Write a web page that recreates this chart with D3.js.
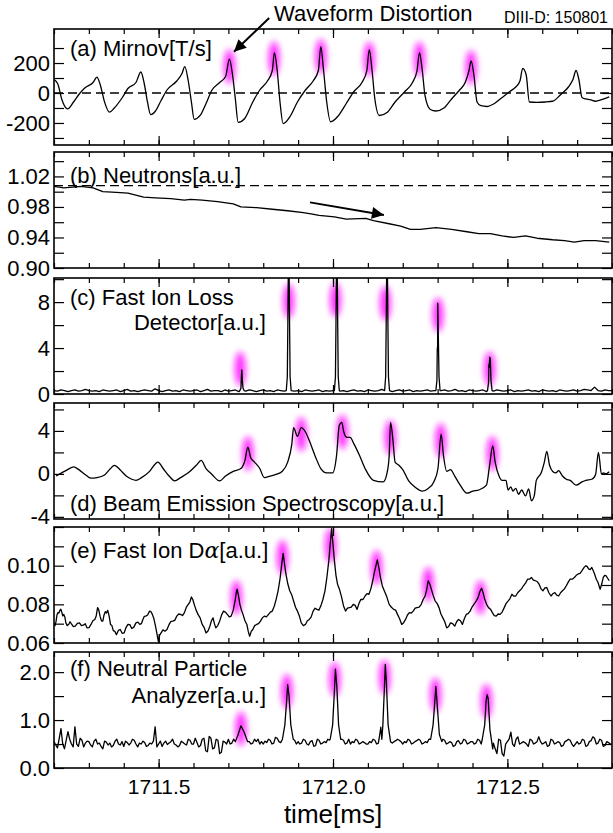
<!DOCTYPE html>
<html>
<head>
<meta charset="utf-8">
<script src="https://cdn.jsdelivr.net/npm/d3@7"></script>
<style>
  body { margin: 0; background: #fff; }
  svg { font-family: "Liberation Sans", Arial, sans-serif; }
</style>
</head>
<body>
<svg width="613" height="833"></svg>
<script>
// ---- data ----
const xMinorTicks = [1711.2, 1711.3, 1711.4, 1711.5, 1711.6, 1711.7, 1711.8, 1711.9, 1712.0,
  1712.1, 1712.2, 1712.3, 1712.4, 1712.5, 1712.6, 1712.7, 1712.8];
const xMajorTicks = [1711.5, 1712.0, 1712.5];

// (a) Mirnov [T/s]
const mirnov = [[1711.200,90],[1711.211,60],[1711.222,-40],[1711.239,-106],[1711.256,-60],[1711.273,-5],[1711.289,35],[1711.312,70],[1711.323,106],[1711.332,60],[1711.345,-60],[1711.359,-128],[1711.373,-100],[1711.396,-30],[1711.412,30],[1711.435,70],[1711.449,140],[1711.459,60],[1711.468,-60],[1711.477,-144],[1711.491,-120],[1711.507,-50],[1711.524,20],[1711.552,80],[1711.567,130],[1711.575,176],[1711.585,80],[1711.594,-60],[1711.602,-176],[1711.619,-150],[1711.636,-70],[1711.653,20],[1711.675,70],[1711.692,110],[1711.703,226],[1711.712,120],[1711.720,-40],[1711.728,-196],[1711.747,-170],[1711.770,-60],[1711.790,20],[1711.812,80],[1711.826,150],[1711.832,270],[1711.840,150],[1711.848,-60],[1711.857,-204],[1711.876,-160],[1711.898,-60],[1711.921,20],[1711.943,80],[1711.958,150],[1711.965,310],[1711.973,150],[1711.982,-60],[1711.993,-192],[1712.016,-150],[1712.038,-70],[1712.060,10],[1712.083,70],[1712.097,150],[1712.104,290],[1712.112,150],[1712.120,-40],[1712.133,-150],[1712.155,-130],[1712.178,-60],[1712.206,10],[1712.228,70],[1712.241,150],[1712.248,270],[1712.256,150],[1712.264,-20],[1712.279,-110],[1712.295,-120],[1712.318,-100],[1712.340,-40],[1712.363,20],[1712.379,70],[1712.390,150],[1712.396,214],[1712.404,120],[1712.413,-60],[1712.424,-85],[1712.441,-90],[1712.463,-70],[1712.485,-30],[1712.507,10],[1712.524,40],[1712.536,80],[1712.544,164],[1712.554,120],[1712.563,-60],[1712.585,-62],[1712.608,-60],[1712.630,-55],[1712.653,-10],[1712.675,40],[1712.688,90],[1712.697,150],[1712.705,90],[1712.714,-30],[1712.725,-40],[1712.737,-45],[1712.753,-55],[1712.770,-45],[1712.792,-26]];
const mirnovGlow = [[1711.703,176],[1711.831,230],[1711.965,246],[1712.104,226],[1712.248,226],[1712.396,170]];
const mirnovTicks = [-300, -200, -100, 0, 100, 200, 300];
const mirnovLabels = [-200, 0, 200];

// (b) Neutrons [a.u.]
const neutrons = [[1711.200,1.007],[1711.228,1.005],[1711.278,1.007],[1711.312,1.005],[1711.340,1.000],[1711.379,0.999],[1711.412,0.998],[1711.457,0.993],[1711.491,0.992],[1711.535,0.991],[1711.574,0.989],[1711.591,0.990],[1711.625,0.989],[1711.669,0.987],[1711.714,0.984],[1711.736,0.980],[1711.781,0.979],[1711.826,0.977],[1711.870,0.975],[1711.915,0.9725],[1711.937,0.971],[1711.960,0.969],[1712.004,0.967],[1712.038,0.964],[1712.094,0.965],[1712.116,0.962],[1712.161,0.958],[1712.194,0.955],[1712.222,0.9505],[1712.250,0.9505],[1712.295,0.953],[1712.340,0.9505],[1712.384,0.9475],[1712.418,0.945],[1712.451,0.945],[1712.485,0.942],[1712.518,0.940],[1712.552,0.942],[1712.585,0.939],[1712.630,0.937],[1712.664,0.936],[1712.692,0.934],[1712.720,0.936],[1712.753,0.936],[1712.792,0.934]];
const neutronsRef = 1.008;
const neutronsTicks = [0.90, 0.92, 0.94, 0.96, 0.98, 1.00, 1.02, 1.04];
const neutronsLabels = [0.90, 0.94, 0.98, 1.02];

// (c) Fast ion loss detector: baseline samples every 0.01 ms from 1711.20, plus bursts
const fildBase = [.3,.25,.35,.3,.2,.3,.35,.25,.3,.4, .3,.25,.3,.2,.35,.3,.25,.3,.35,.2,
  .3,.4,.25,.3,.2,.3,.35,.3,.25,.45, .3,.2,.3,.35,.25,.3,.2,.35,.3,.25,
  .3,.35,.2,.3,.4,.25,.3,.3,.2,.35, .25,.3,.35,.2,.3,.25,.35,.3,.2,.3,
  .35,.25,.3,.2,.35,.3,.25,.3,.4,.25, .3,.2,.35,.3,.25,.3,.35,.2,.3,.25,
  .3,.35,.25,.3,.2,.3,.35,.25,.3,.2, .35,.3,.25,.3,.4,.25,.3,.2,.3,.35,
  .25,.3,.35,.2,.3,.25,.3,.35,.25,.3, .2,.3,.35,.25,.3,.4,.25,.3,.2,.35,
  .3,.25,.3,.35,.2,.3,.25,.35,.3,.25, .3,.35,.2,.3,.25,.3,.35,.25,.3,.2,
  .35,.3,.25,.3,.2,.35,.3,.25,.3,.35, .25,.3,.4,.35,.3,.6,.3,.25,.35,.3, .3];
const fildBursts = [
  [[1711.733,0.3],[1711.736,0.5],[1711.7375,1.6],[1711.7385,2.1],[1711.740,1.2],[1711.742,0.5],[1711.745,0.3]],
  [[1711.866,0.3],[1711.869,1.5],[1711.8705,6],[1711.872,11],[1711.874,11],[1711.8755,6],[1711.877,1.5],[1711.880,0.3]],
  [[1712.004,0.3],[1712.007,1.5],[1712.0085,6],[1712.010,11],[1712.012,11],[1712.0135,6],[1712.015,1.5],[1712.018,0.3]],
  [[1712.148,0.3],[1712.151,1.5],[1712.1525,6],[1712.154,11],[1712.156,11],[1712.1575,6],[1712.159,1.5],[1712.162,0.3]],
  [[1712.295,0.3],[1712.298,1.2],[1712.299,3.9],[1712.300,4.2],[1712.3005,7.9],[1712.302,5],[1712.304,1.5],[1712.307,0.3]],
  [[1712.443,0.3],[1712.446,1.0],[1712.447,2.6],[1712.448,2.3],[1712.4495,3.2],[1712.451,3.1],[1712.453,1.2],[1712.456,0.3]]
];
const fildGlow = [[1711.734,2.2],[1711.873,8.1],[1712.007,8.2],[1712.150,7.9],[1712.301,6.9],[1712.449,2.2]];
const fildTicks = [0, 2, 4, 6, 8, 10];
const fildLabels = [0, 4, 8];

// (d) Beam emission spectroscopy [a.u.]
const bes = [[1711.206,-0.2],[1711.222,0.1],[1711.239,0.4],[1711.256,0.65],[1711.273,0.35],[1711.289,-0.05],[1711.306,-0.4],[1711.323,-0.35],[1711.345,-0.1],[1711.362,0.5],[1711.373,0.8],[1711.390,0.37],[1711.407,-0.2],[1711.423,-0.5],[1711.435,-0.6],[1711.451,-0.35],[1711.474,0.23],[1711.491,0.95],[1711.498,1.1],[1711.513,0.5],[1711.530,-0.2],[1711.546,-0.65],[1711.563,-0.35],[1711.585,0.1],[1711.608,0.8],[1711.622,1.25],[1711.636,0.5],[1711.653,-0.05],[1711.675,-0.65],[1711.692,-0.2],[1711.714,0.23],[1711.736,0.5],[1711.747,1.2],[1711.756,2.5],[1711.764,1.5],[1711.775,1.1],[1711.790,0.5],[1711.803,-0.35],[1711.820,-0.2],[1711.837,-0.05],[1711.854,0.23],[1711.870,1.1],[1711.882,2.8],[1711.887,4.3],[1711.898,3.5],[1711.909,4.3],[1711.921,3.9],[1711.932,3.1],[1711.949,1.65],[1711.965,0.5],[1711.982,0.1],[1711.999,0.1],[1712.010,1.65],[1712.018,4.5],[1712.025,4.8],[1712.031,3.9],[1712.040,3.4],[1712.049,3.4],[1712.060,2.8],[1712.077,1.65],[1712.094,0.37],[1712.116,-0.6],[1712.144,-0.75],[1712.155,0.1],[1712.161,1.65],[1712.165,4.8],[1712.172,3.1],[1712.178,1.1],[1712.189,0.8],[1712.200,0.4],[1712.217,-0.65],[1712.234,-1.2],[1712.256,-1.6],[1712.273,-1.35],[1712.289,-0.75],[1712.301,0.5],[1712.310,3.7],[1712.317,1.65],[1712.326,0.23],[1712.337,0.4],[1712.349,-0.2],[1712.362,-0.9],[1712.384,-1.8],[1712.401,-1.6],[1712.418,-1.5],[1712.440,-1.05],[1712.449,0.8],[1712.458,2.6],[1712.465,1.1],[1712.476,-0.2],[1712.485,-0.6],[1712.496,-0.6],[1712.502,-1.5],[1712.510,-1.2],[1712.516,-1.6],[1712.524,-1.35],[1712.532,-1.9],[1712.541,-1.5],[1712.552,-2.05],[1712.561,-1.4],[1712.569,-2.5],[1712.577,-2.05],[1712.583,-0.6],[1712.597,0.1],[1712.606,1.1],[1712.613,2.1],[1712.621,0.8],[1712.630,0.23],[1712.639,0.1],[1712.647,0.3],[1712.658,-0.2],[1712.669,-0.5],[1712.680,-0.6],[1712.697,-1.05],[1712.714,-0.75],[1712.725,-0.6],[1712.742,-0.5],[1712.753,-0.05],[1712.761,2.0],[1712.770,-0.05],[1712.775,0.1],[1712.782,0],[1712.792,0.2]];
const besGlow = [[1711.756,1.9],[1711.909,3.7],[1712.027,3.9],[1712.164,3.4],[1712.309,3.1],[1712.457,1.9]];
const besTicks = [-4, -2, 0, 2, 4, 6];
const besLabels = [-4, 0, 4];

// (e) Fast ion D-alpha [a.u.]: main trace and the small wiggles between its samples
const fida = [[1711.200,0.0700],[1711.206,0.0713],[1711.211,0.0757],[1711.217,0.0769],[1711.222,0.0762],[1711.228,0.0748],[1711.234,0.0704],[1711.242,0.0696],[1711.250,0.0699],[1711.261,0.0687],[1711.273,0.0704],[1711.284,0.0692],[1711.295,0.0678],[1711.306,0.0696],[1711.317,0.0722],[1711.325,0.0783],[1711.332,0.0739],[1711.340,0.0713],[1711.347,0.0762],[1711.354,0.0769],[1711.362,0.0696],[1711.370,0.0664],[1711.379,0.0643],[1711.390,0.0670],[1711.401,0.0652],[1711.412,0.0696],[1711.423,0.0675],[1711.435,0.0704],[1711.446,0.0696],[1711.455,0.0722],[1711.463,0.0739],[1711.474,0.0765],[1711.482,0.0748],[1711.491,0.0687],[1711.499,0.0609],[1711.507,0.0652],[1711.518,0.0661],[1711.530,0.0696],[1711.541,0.0713],[1711.552,0.0739],[1711.563,0.0748],[1711.574,0.0757],[1711.585,0.0800],[1711.594,0.0838],[1711.602,0.0800],[1711.613,0.0748],[1711.625,0.0696],[1711.636,0.0652],[1711.647,0.0687],[1711.656,0.0730],[1711.664,0.0678],[1711.675,0.0713],[1711.686,0.0765],[1711.697,0.0748],[1711.708,0.0739],[1711.720,0.0826],[1711.725,0.0878],[1711.733,0.0800],[1711.742,0.0748],[1711.753,0.0696],[1711.761,0.0635],[1711.770,0.0670],[1711.781,0.0696],[1711.792,0.0713],[1711.803,0.0739],[1711.815,0.0748],[1711.826,0.0765],[1711.837,0.0826],[1711.848,0.0930],[1711.857,0.1064],[1711.865,0.0957],[1711.876,0.0870],[1711.887,0.0817],[1711.898,0.0765],[1711.909,0.0704],[1711.921,0.0696],[1711.932,0.0722],[1711.943,0.0765],[1711.954,0.0774],[1711.965,0.0791],[1711.977,0.0870],[1711.988,0.1026],[1711.996,0.1191],[1712.004,0.1026],[1712.013,0.0904],[1712.025,0.0835],[1712.036,0.0765],[1712.047,0.0783],[1712.058,0.0800],[1712.069,0.0774],[1712.080,0.0826],[1712.092,0.0843],[1712.103,0.0852],[1712.114,0.0922],[1712.122,0.0991],[1712.127,0.1030],[1712.136,0.0939],[1712.147,0.0870],[1712.161,0.0800],[1712.174,0.0774],[1712.185,0.0748],[1712.197,0.0696],[1712.208,0.0722],[1712.219,0.0757],[1712.230,0.0765],[1712.241,0.0783],[1712.253,0.0800],[1712.264,0.0843],[1712.273,0.0922],[1712.282,0.0878],[1712.293,0.0817],[1712.304,0.0783],[1712.315,0.0730],[1712.326,0.0678],[1712.337,0.0704],[1712.349,0.0687],[1712.360,0.0722],[1712.371,0.0696],[1712.382,0.0748],[1712.393,0.0765],[1712.404,0.0800],[1712.416,0.0835],[1712.426,0.0883],[1712.435,0.0826],[1712.446,0.0783],[1712.457,0.0757],[1712.468,0.0739],[1712.479,0.0748],[1712.491,0.0783],[1712.502,0.0817],[1712.513,0.0852],[1712.524,0.0843],[1712.535,0.0870],[1712.546,0.0896],[1712.558,0.0930],[1712.569,0.0939],[1712.580,0.0922],[1712.591,0.0904],[1712.602,0.0870],[1712.613,0.0887],[1712.625,0.0843],[1712.636,0.0861],[1712.647,0.0843],[1712.658,0.0870],[1712.669,0.0896],[1712.680,0.0930],[1712.692,0.0939],[1712.703,0.0957],[1712.714,0.0974],[1712.725,0.1000],[1712.733,0.0983],[1712.742,0.0991],[1712.750,0.0957],[1712.760,0.0913],[1712.766,0.0878],[1712.775,0.0939],[1712.783,0.0948],[1712.792,0.0922]];
const fidaWiggle = [[1711.203,0.0690],[1711.2085,0.0745],[1711.214,0.0755],[1711.2195,0.0775],[1711.225,0.0740],[1711.231,0.0735],[1711.238,0.0690],[1711.246,0.0710],[1711.2555,0.0685],[1711.267,0.0702],[1711.2785,0.0690],[1711.2895,0.0700],[1711.3005,0.0680],[1711.3115,0.0715],[1711.321,0.0740],[1711.3285,0.0770],[1711.336,0.0715],[1711.3435,0.0745],[1711.3505,0.0755],[1711.358,0.0740],[1711.366,0.0690],[1711.3745,0.0660],[1711.3845,0.0665],[1711.3955,0.0650],[1711.4065,0.0680],[1711.4175,0.0695],[1711.429,0.0682],[1711.4405,0.0708],[1711.4505,0.0700],[1711.459,0.0738],[1711.4685,0.0745],[1711.478,0.0762],[1711.4865,0.0725],[1711.495,0.0650],[1711.503,0.0640],[1711.5125,0.0668],[1711.524,0.0670],[1711.5355,0.0712],[1711.5465,0.0718],[1711.5575,0.0750],[1711.5685,0.0742],[1711.5795,0.0785],[1711.5895,0.0812],[1711.598,0.0825],[1711.6075,0.0770],[1711.619,0.0730],[1711.6305,0.0680],[1711.6415,0.0662],[1711.6515,0.0715],[1711.660,0.0700],[1711.6695,0.0690],[1711.6805,0.0745],[1711.6915,0.0760],[1711.7025,0.0735],[1711.714,0.0770],[1711.7225,0.0860],[1711.729,0.0845],[1711.7375,0.0770],[1711.7475,0.0715],[1711.757,0.0660],[1711.7655,0.0660],[1711.7755,0.0690],[1711.7865,0.0700],[1711.7975,0.0730],[1711.809,0.0735],[1711.8205,0.0760],[1711.8315,0.0790],[1711.8425,0.0870],[1711.8525,0.1000],[1711.861,0.1010],[1711.8705,0.0905],[1711.8815,0.0850],[1711.8925,0.0785],[1711.9035,0.0740],[1711.915,0.0690],[1711.9265,0.0715],[1711.9375,0.0735],[1711.9485,0.0780],[1711.9595,0.0770],[1711.971,0.0825],[1711.9825,0.0940],[1711.992,0.1110],[1712.000,0.1110],[1712.0085,0.0950],[1712.019,0.0875],[1712.0305,0.0790],[1712.0415,0.0780],[1712.0525,0.0785],[1712.0635,0.0795],[1712.0745,0.0805],[1712.086,0.0825],[1712.0975,0.0855],[1712.1085,0.0880],[1712.118,0.0960],[1712.1245,0.1010],[1712.1315,0.0990],[1712.1415,0.0895],[1712.154,0.0840],[1712.1675,0.0785],[1712.1795,0.0770],[1712.191,0.0725],[1712.2025,0.0705],[1712.2135,0.0745],[1712.2245,0.0755],[1712.2355,0.0780],[1712.247,0.0785],[1712.2585,0.0825],[1712.2685,0.0875],[1712.2775,0.0905],[1712.2875,0.0845],[1712.2985,0.0805],[1712.3095,0.0750],[1712.3205,0.0710],[1712.3315,0.0685],[1712.343,0.0700],[1712.3545,0.0710],[1712.3655,0.0715],[1712.3765,0.0725],[1712.3875,0.0752],[1712.3985,0.0785],[1712.410,0.0815],[1712.421,0.0865],[1712.4305,0.0860],[1712.4405,0.0800],[1712.4515,0.0775],[1712.4625,0.0742],[1712.4735,0.0750],[1712.485,0.0760],[1712.4965,0.0805],[1712.5075,0.0830],[1712.5185,0.0842],[1712.5295,0.0860],[1712.5405,0.0880],[1712.552,0.0910],[1712.5635,0.0930],[1712.5745,0.0925],[1712.5855,0.0918],[1712.5965,0.0880],[1712.6075,0.0885],[1712.619,0.0860],[1712.6305,0.0855],[1712.6415,0.0848],[1712.6525,0.0860],[1712.6635,0.0880],[1712.6745,0.0915],[1712.686,0.0930],[1712.6975,0.0950],[1712.7085,0.0960],[1712.7195,0.0990],[1712.729,0.0995],[1712.7375,0.0980],[1712.746,0.0975],[1712.755,0.0930],[1712.763,0.0895],[1712.7705,0.0905],[1712.779,0.0950],[1712.7875,0.0935]];
const fidaGlow = [[1711.723,0.0835],[1711.855,0.1043],[1711.993,0.1104],[1712.125,0.0991],[1712.273,0.0904],[1712.423,0.0835]];
const fidaTicks = [0.06, 0.07, 0.08, 0.09, 0.10, 0.11, 0.12];
const fidaLabels = [0.06, 0.08, 0.10];

// (f) Neutral particle analyzer: baseline every 0.005 ms from 1711.20, plus bursts
const npaBase = [
  .55,.48,.42,.62,.82,.5,.4,.58,.76,.6,.5,.44,.86,.5,.45,.62,.58,.44,.52,.56,
  .55,.48,.44,.56,.6,.5,.52,.45,.4,.56,.54,.48,.52,.44,.47,.56,.6,.5,.48,.55,
  .45,.56,.53,.48,.52,.6,.58,.5,.44,.52,.5,.56,.53,.45,.47,.52,.5,.56,.86,.44,
  .5,.56,.45,.52,.56,.49,.52,.55,.6,.5,.48,.44,.47,.56,.53,.5,.48,.6,.58,.5,
  .5,.62,.53,.44,.47,.6,.62,.36,.34,.66,.62,.4,.42,.6,.58,.3,.33,.56,.54,.5,
  .6,.5,.52,.6,.57,.54,.5,.52,.6,.55,.5,.6,.55,.5,.52,.6,.55,.6,.5,.55,
  .5,.56,.53,.6,.58,.5,.52,.64,.62,.55,.53,.6,.58,.5,.52,.55,.57,.6,.58,.5,
  .55,.5,.52,.6,.58,.5,.48,.55,.57,.45,.47,.6,.58,.5,.52,.55,.53,.6,.58,.55,
  .6,.55,.53,.5,.55,.6,.58,.5,.52,.6,.5,.55,.53,.6,.58,.5,.52,.55,.53,.5,
  .5,.55,.53,.6,.58,.5,.52,.7,.66,.5,.52,.55,.53,.5,.52,.55,.57,.6,.58,.55,
  .5,.55,.53,.6,.58,.5,.52,.55,.57,.6,.58,.5,.52,.55,.53,.6,.58,.55,.53,.5,
  .55,.5,.52,.6,.58,.5,.52,.55,.53,.45,.47,.55,.57,.5,.52,.6,.58,.5,.52,.55,
  .55,.5,.52,.6,.58,.5,.52,.55,.57,.6,.58,.5,.52,.4,.3,.6,.58,.3,.25,.5,
  .55,.6,.75,.5,.45,.6,.65,.5,.52,.55,.53,.5,.45,.6,.58,.5,.52,.55,.65,.55,
  .5,.52,.55,.45,.47,.6,.58,.5,.52,.55,.53,.45,.47,.55,.57,.6,.58,.5,.45,.5,
  .55,.5,.52,.6,.58,.45,.47,.55,.57,.65,.62,.5,.52,.6,.58,.45,.47,.55,.53,.5,
  .5];
const npaBursts = [
  [[1711.720,0.55],[1711.728,0.7],[1711.736,0.88],[1711.745,0.75],[1711.755,0.55]],
  [[1711.855,0.6],[1711.862,0.9],[1711.867,1.4],[1711.870,1.74],[1711.874,1.5],[1711.879,0.9],[1711.886,0.6]],
  [[1711.992,0.6],[1711.999,0.9],[1712.004,1.6],[1712.007,2.06],[1712.011,1.7],[1712.016,0.9],[1712.022,0.6]],
  [[1712.132,0.6],[1712.137,0.85],[1712.140,0.6],[1712.143,0.9],[1712.147,1.6],[1712.150,2.16],[1712.153,1.8],[1712.158,0.9],[1712.165,0.55]],
  [[1712.280,0.6],[1712.287,0.9],[1712.292,1.4],[1712.295,1.70],[1712.299,1.3],[1712.305,0.7],[1712.312,0.55]],
  [[1712.428,0.6],[1712.435,0.9],[1712.439,1.4],[1712.442,1.53],[1712.445,1.45],[1712.450,0.8],[1712.458,0.4]]
];
const npaGlow = [[1711.736,0.82],[1711.868,1.6],[1712.005,1.85],[1712.148,1.9],[1712.294,1.53],[1712.440,1.39]];
const npaTicks = [0, 0.5, 1.0, 1.5, 2.0];
const npaLabels = [0, 1.0, 2.0];

// ---- helpers ----
const t0 = 1711.2;
function withBursts(base, step, bursts) {
  let pts = base.map((v, i) => [t0 + i * step, v]);
  bursts.forEach(b => {
    const lo = b[0][0], hi = b[b.length - 1][0];
    pts = pts.filter(p => p[0] < lo || p[0] > hi).concat(b);
  });
  return pts.sort((a, b) => a[0] - b[0]);
}

let svg = d3.select("svg");
const left = 54, right = 612;
const panelTops = [29, 152, 278, 403, 527, 652];
const panelH = 116;
const font = '"Liberation Sans", Arial, sans-serif';

let x = d3.scaleLinear().domain([1711.2, 1712.8]).range([left, right]);

let defs = svg.append("defs");
defs.append("filter")
  .attr("id", "glow")
  .attr("x", "-150%").attr("y", "-100%")
  .attr("width", "400%").attr("height", "300%")
  .append("feGaussianBlur")
  .attr("stdDeviation", 3.2);

defs.append("marker")
  .attr("id", "head")
  .attr("viewBox", "0 0 10 10")
  .attr("refX", 10).attr("refY", 5)
  .attr("markerWidth", 7).attr("markerHeight", 6)
  .attr("markerUnits", "strokeWidth")
  .attr("orient", "auto")
  .append("path")
  .attr("d", "M0,0L10,5L0,10z")
  .attr("fill", "#000");

let panels = [
  { data: mirnov, glow: mirnovGlow, domain: [-347, 427], ticks: mirnovTicks, labels: mirnovLabels,
    fmt: d => String(d), curve: d3.curveMonotoneX, ref: 0 },
  { data: neutrons, glow: [], domain: [0.90, 1.052], ticks: neutronsTicks, labels: neutronsLabels,
    fmt: d => d.toFixed(2), curve: d3.curveLinear, ref: neutronsRef },
  { data: withBursts(fildBase, 0.01, fildBursts), glow: fildGlow, domain: [0, 10.1], ticks: fildTicks, labels: fildLabels,
    fmt: d => String(d), curve: d3.curveLinear },
  { data: bes, glow: besGlow, domain: [-4.2, 6.6], ticks: besTicks, labels: besLabels,
    fmt: d => String(d), curve: d3.curveMonotoneX },
  { data: fida.concat(fidaWiggle).sort((a, b) => a[0] - b[0]), glow: fidaGlow, domain: [0.06, 0.12],
    ticks: fidaTicks, labels: fidaLabels, fmt: d => d.toFixed(2), curve: d3.curveLinear },
  { data: withBursts(npaBase, 0.005, npaBursts), glow: npaGlow, domain: [0, 2.42], ticks: npaTicks, labels: npaLabels,
    fmt: d => d.toFixed(1), curve: d3.curveLinear }
];

let yScales = [];

panels.forEach((p, i) => {
  const top = panelTops[i], bottom = top + panelH;
  let y = d3.scaleLinear().domain(p.domain).range([bottom, top]);
  yScales.push(y);

  defs.append("clipPath").attr("id", "clip" + i)
    .append("rect")
    .attr("x", left).attr("y", top)
    .attr("width", right - left).attr("height", panelH);

  let g = svg.append("g").attr("class", "panel");
  let plot = g.append("g").attr("clip-path", `url(#clip${i})`);

  // magenta highlight of the bursts
  plot.selectAll("ellipse")
    .data(p.glow)
    .join("ellipse")
    .attr("cx", d => x(d[0]))
    .attr("cy", d => y(d[1]))
    .attr("rx", 5.5)
    .attr("ry", 17)
    .attr("fill", "#ff10ff")
    .attr("opacity", 0.85)
    .attr("filter", "url(#glow)");

  if (p.ref != null) {
    plot.append("line")
      .attr("x1", left).attr("x2", right)
      .attr("y1", y(p.ref)).attr("y2", y(p.ref))
      .attr("stroke", "#000")
      .attr("stroke-width", 1.3)
      .attr("stroke-dasharray", "9,5");
  }

  plot.append("path")
    .datum(p.data)
    .attr("fill", "none")
    .attr("stroke", "#000")
    .attr("stroke-width", 1.3)
    .attr("stroke-linejoin", "round")
    .attr("d", d3.line().x(d => x(d[0])).y(d => y(d[1])).curve(p.curve));

  const isLabel = d => p.labels.some(l => Math.abs(l - d) < 1e-9);

  let yl = g.append("g")
    .attr("transform", `translate(${left},0)`)
    .call(d3.axisLeft(y).tickValues(p.ticks).tickSize(-10).tickPadding(4)
      .tickFormat(d => isLabel(d) ? p.fmt(d) : ""));
  yl.selectAll("text").attr("font-size", 22).attr("font-family", font).attr("fill", "#000");

  g.append("g")
    .attr("transform", `translate(${right},0)`)
    .call(d3.axisRight(y).tickValues(p.ticks).tickSize(-10).tickFormat(""));

  g.append("g").attr("transform", `translate(0,${top})`)
    .call(d3.axisTop(x).tickValues(xMinorTicks).tickSize(-5).tickFormat(""));
  g.append("g").attr("transform", `translate(0,${top})`)
    .call(d3.axisTop(x).tickValues(xMajorTicks).tickSize(-9).tickFormat(""));
  g.append("g").attr("transform", `translate(0,${bottom})`)
    .call(d3.axisBottom(x).tickValues(xMinorTicks).tickSize(-5).tickFormat(""));
  g.append("g").attr("transform", `translate(0,${bottom})`)
    .call(d3.axisBottom(x).tickValues(xMajorTicks).tickSize(-9).tickFormat(""));

  g.selectAll(".domain").remove();
  g.selectAll(".tick line").attr("stroke", "#000").attr("stroke-width", 1.2);

  g.append("rect")
    .attr("x", left).attr("y", top)
    .attr("width", right - left).attr("height", panelH)
    .attr("fill", "none")
    .attr("stroke", "#000")
    .attr("stroke-width", 1.6);
});

// x tick labels under the last panel
let xl = svg.append("g")
  .attr("transform", `translate(0,${panelTops[5] + panelH})`)
  .call(d3.axisBottom(x).tickValues(xMajorTicks).tickSize(0).tickPadding(11).tickFormat(d3.format(".1f")));
xl.select(".domain").remove();
xl.selectAll("text").attr("font-size", 21).attr("font-family", font).attr("fill", "#000");

svg.append("text")
  .attr("x", (left + right) / 2).attr("y", 823)
  .attr("text-anchor", "middle")
  .attr("font-size", 26)
  .text("time[ms]");

// panel titles
const title = (txt, tx, ty, anchor) => svg.append("text")
  .attr("x", tx).attr("y", ty)
  .attr("text-anchor", anchor || "start")
  .attr("font-size", 22)
  .text(txt);

title("(a) Mirnov[T/s]", 70, 56);
title("(b) Neutrons[a.u.]", 70, 183);
title("(c) Fast Ion Loss", 70, 305);
title("Detector[a.u.]", 266, 330, "end");
title("(d) Beam Emission Spectroscopy[a.u.]", 70, 511);
let te = title("(e) Fast Ion D", 70, 558);
te.append("tspan").attr("font-family", '"DejaVu Serif", serif').attr("font-style", "italic").text("α");
te.append("tspan").text("[a.u.]");
title("(f) Neutral Particle", 70, 676);
title("Analyzer[a.u.]", 266, 703, "end");

svg.append("text")
  .attr("x", 274).attr("y", 21)
  .attr("font-size", 22)
  .text("Waveform Distortion");
svg.append("text")
  .attr("x", 608).attr("y", 23)
  .attr("text-anchor", "end")
  .attr("font-size", 16)
  .text("DIII-D: 150801");

// arrows, placed in data coordinates of their panels
const arrows = [
  { panel: 0, from: [1711.817, 500], to: [1711.716, 275] },
  { panel: 1, from: [1711.934, 0.986], to: [1712.146, 0.9695] }
];
arrows.forEach(a => {
  const y = yScales[a.panel];
  svg.append("line")
    .attr("x1", x(a.from[0])).attr("y1", y(a.from[1]))
    .attr("x2", x(a.to[0])).attr("y2", y(a.to[1]))
    .attr("stroke", "#000")
    .attr("stroke-width", 2)
    .attr("marker-end", "url(#head)");
});
</script>
</body>
</html>
